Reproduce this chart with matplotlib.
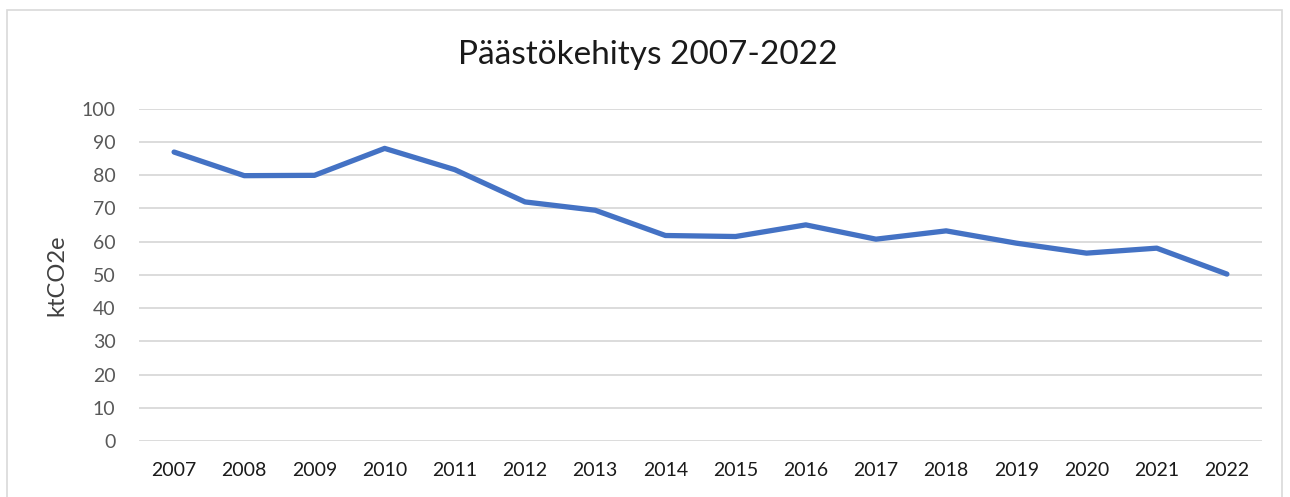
import matplotlib
matplotlib.use("Agg")
import matplotlib.pyplot as plt
from matplotlib.patches import Rectangle

years = [str(y) for y in range(2007, 2023)]
emissions = [86.9, 79.8, 79.9, 88.0, 81.6, 71.9, 69.4, 61.8,
             61.5, 65.0, 60.7, 63.2, 59.5, 56.5, 58.0, 50.2]
yticks = list(range(0, 101, 10))

plt.rcParams["font.family"] = ["Lato", "DejaVu Sans"]

fig = plt.figure(figsize=(12.9, 4.97), dpi=100)
ax = fig.add_axes((139 / 1290, 1 - 441 / 497, 1123 / 1290, 332.5 / 497))

# chart border
fig.patches.append(Rectangle((7 / 1290, -0.01), 1275 / 1290, 1 - 10 / 497 + 0.01,
                             transform=fig.transFigure, fill=False,
                             edgecolor="#d9d9d9", linewidth=1.2))

x = range(len(years))
ax.plot(x, emissions, color="#4472C4", linewidth=3.8, solid_capstyle="round",
        solid_joinstyle="round", zorder=3)

ax.set_xlim(-0.5, len(years) - 0.5)
ax.set_ylim(0, 100)
ax.set_yticks(yticks)
ax.set_xticks(list(x))
ax.set_xticklabels(years)
ax.grid(axis="y", color="#d9d9d9", linewidth=1.3)
ax.set_axisbelow(True)
for s in ax.spines.values():
    s.set_visible(False)
ax.tick_params(length=0)
ax.tick_params(axis="y", labelsize=14, labelcolor="#595959", pad=17)
ax.tick_params(axis="x", labelsize=14, labelcolor="#1a1a1a", pad=15)

ax.set_ylabel("ktCO2e", fontsize=17, color="#404040", labelpad=10)
fig.text(648 / 1290, 1 - 55 / 497, "Päästökehitys 2007-2022", fontsize=24,
         ha="center", va="center", color="#1a1a1a")

fig.savefig("out.png", dpi=100, facecolor="white")
